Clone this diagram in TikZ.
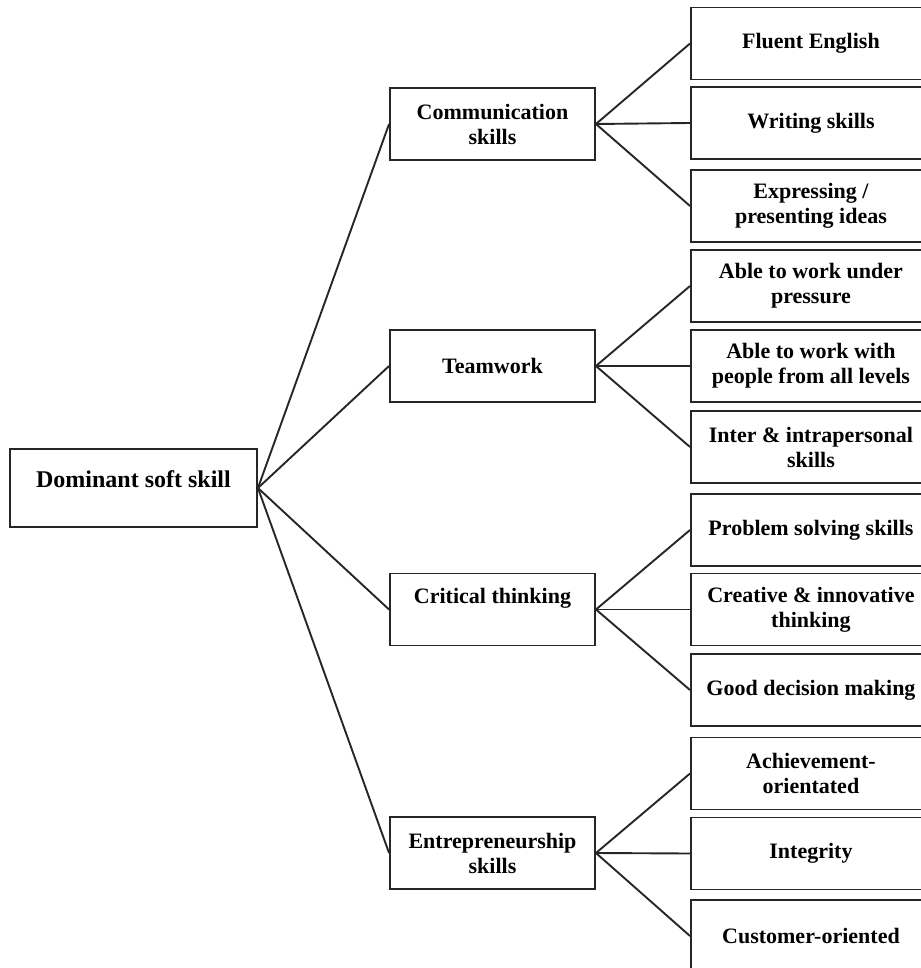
\documentclass[tikz,border=0pt]{standalone}
\usepackage{fontspec}
\setmainfont{Liberation Serif}

\begin{document}
\begin{tikzpicture}[x=0.5pt, y=-0.5pt,
    box/.style={draw=black!85, line width=0.95pt, align=center, inner sep=2pt,
        font=\bfseries\fontsize{11}{12.5}\selectfont},
    rootbox/.style={box, minimum width=123.5pt, minimum height=39pt,
        font=\bfseries\fontsize{12}{14}\selectfont},
    midbox/.style={box, minimum width=102.5pt, minimum height=36pt},
    leafbox/.style={box, minimum width=120pt, minimum height=36pt},
    link/.style={draw=black!85, line width=0.95pt}]

    \useasboundingbox (0,0) rectangle (920,968); % page frame (pixel units)

    % Root box (text sits high in the box)
    \node[rootbox, text depth=9pt] (root) at (133.5,488) {Dominant soft skill};

    % Skill groups
    \node[midbox] (comm) at (492.5,124) {Communication\\skills};
    \node[midbox] (team) at (492.5,366) {Teamwork};
    \node[midbox, text depth=14pt] (crit) at (492.5,609.5) {Critical thinking};
    \node[midbox] (entr) at (492.5,853) {Entrepreneurship\\skills};

    % Individual skills (boxes run past the right edge)
    \node[leafbox, anchor=west] (fluent) at (690,43.5) {Fluent English};
    \node[leafbox, anchor=west] (writing) at (690,123) {Writing skills};
    \node[leafbox, anchor=west] (express) at (690,206) {Expressing /\\presenting ideas};
    \node[leafbox, anchor=west] (pressure) at (690,286) {Able to work under\\pressure};
    \node[leafbox, anchor=west] (levels) at (690,366) {Able to work with\\people from all levels};
    \node[leafbox, anchor=west] (inter) at (690,447) {Inter \& intrapersonal\\skills};
    \node[leafbox, anchor=west] (problem) at (690,530) {Problem solving skills};
    \node[leafbox, anchor=west] (creative) at (690,609.5) {Creative \& innovative\\thinking};
    \node[leafbox, anchor=west] (decision) at (690,690) {Good decision making};
    \node[leafbox, anchor=west] (achieve) at (690,773.5) {Achievement-\\orientated};
    \node[leafbox, anchor=west] (integrity) at (690,853.5) {Integrity};
    \node[leafbox, anchor=west] (customer) at (690,936) {Customer-oriented};

    % Root to groups
    \foreach \grp in {comm, team, crit, entr} {
        \draw[link] (root.east) -- (\grp.west);
    }

    % Groups to skills
    \foreach \grp/\leaf in {comm/fluent, comm/writing, comm/express,
                            team/pressure, team/levels, team/inter,
                            crit/problem, crit/creative, crit/decision,
                            entr/achieve, entr/integrity, entr/customer} {
        \draw[link] (\grp.east) -- (\leaf.west);
    }
\end{tikzpicture}
\end{document}
